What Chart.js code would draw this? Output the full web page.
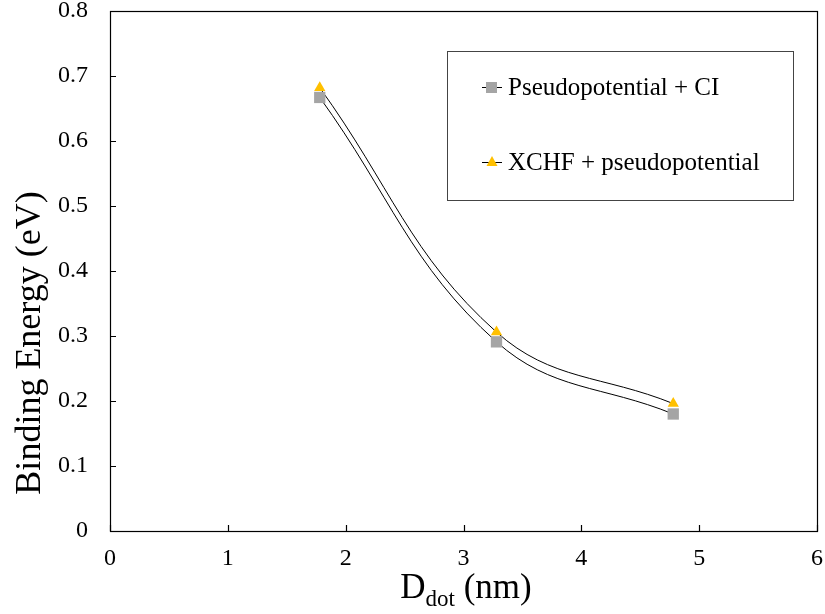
<!DOCTYPE html>
<html>
<head>
<meta charset="utf-8">
<script src="https://cdn.jsdelivr.net/npm/chart.js@4.4.0/dist/chart.umd.min.js"></script>
<style>
  body { margin: 0; background: #fff; }
  canvas { display: block; }
</style>
</head>
<body>
<canvas id="energyChart" width="825" height="614"></canvas>
<script>
// dot diameters (nm) and binding energies (eV)
const diameters = [1.78, 3.28, 4.78];
const ciEnergies = [0.667, 0.291, 0.180];
const xchfEnergies = [0.682, 0.306, 0.196];
const seriesNames = ["Pseudopotential + CI", "XCHF + pseudopotential"];
const xTicks = [0, 1, 2, 3, 4, 5, 6];
const yTicks = [0, 0.1, 0.2, 0.3, 0.4, 0.5, 0.6, 0.7, 0.8];

const FONT = "'Liberation Serif', 'Times New Roman', serif";
Chart.defaults.font.family = FONT;
Chart.defaults.font.size = 24;
Chart.defaults.color = "#000";

function points(ys) {
  return diameters.map((x, i) => ({ x, y: ys[i] }));
}

// frame, inward ticks, legend box and axis titles
const decorations = {
  id: "decorations",
  afterDraw(chart) {
    const ctx = chart.ctx;
    const a = chart.chartArea;
    const xs = chart.scales.x, ys = chart.scales.y;
    ctx.save();
    ctx.strokeStyle = "#000";
    ctx.lineWidth = 1.2;
    ctx.strokeRect(a.left + 0.5, a.top + 0.5, a.right - a.left, a.bottom - a.top);

    ctx.beginPath();
    xTicks.forEach(v => {
      const px = Math.round(xs.getPixelForValue(v)) + 0.5;
      ctx.moveTo(px, a.bottom);
      ctx.lineTo(px, a.bottom - 6);
    });
    yTicks.forEach(v => {
      const py = Math.round(ys.getPixelForValue(v)) + 0.5;
      ctx.moveTo(a.left, py);
      ctx.lineTo(a.left + 6, py);
    });
    ctx.stroke();

    // legend
    ctx.strokeStyle = "#444";
    ctx.lineWidth = 1;
    ctx.strokeRect(447.5, 51.5, 346, 149);
    const rows = [87, 162];
    chart.data.datasets.forEach((ds, i) => {
      const y = rows[i];
      ctx.strokeStyle = "#000";
      ctx.lineWidth = 1;
      ctx.beginPath();
      ctx.moveTo(482, y + 0.5);
      ctx.lineTo(502, y + 0.5);
      ctx.stroke();
      ctx.fillStyle = ds.pointBackgroundColor;
      if (ds.pointStyle === "rect") {
        ctx.fillRect(486, y - 5, 11, 11);
      } else {
        ctx.beginPath();
        ctx.moveTo(492, y - 6);
        ctx.lineTo(497.5, y + 4);
        ctx.lineTo(486.5, y + 4);
        ctx.closePath();
        ctx.fill();
      }
      ctx.fillStyle = "#000";
      ctx.font = "25px " + FONT;
      ctx.textBaseline = "middle";
      ctx.textAlign = "left";
      ctx.fillText(ds.label, 508, y + 1);
    });

    // y title
    ctx.save();
    ctx.translate(31, 343);
    ctx.rotate(-Math.PI / 2);
    ctx.font = "36px " + FONT;
    ctx.textAlign = "center";
    ctx.textBaseline = "middle";
    ctx.fillText("Binding Energy (eV)", 0, 0);
    ctx.restore();

    // x title with subscript
    ctx.textBaseline = "alphabetic";
    ctx.textAlign = "left";
    ctx.font = "35px " + FONT;
    const d = ctx.measureText("D").width;
    ctx.font = "23px " + FONT;
    const sub = ctx.measureText("dot").width;
    ctx.font = "35px " + FONT;
    const rest = ctx.measureText(" (nm)").width;
    let x0 = 466 - (d + sub + rest) / 2;
    ctx.fillText("D", x0, 598);
    ctx.font = "23px " + FONT;
    ctx.fillText("dot", x0 + d, 606);
    ctx.font = "35px " + FONT;
    ctx.fillText(" (nm)", x0 + d + sub, 598);
    ctx.restore();
  }
};

new Chart(document.getElementById("energyChart"), {
  type: "line",
  data: {
    datasets: [
      {
        label: seriesNames[0],
        data: points(ciEnergies),
        borderColor: "#000",
        borderWidth: 1,
        tension: 0.4,
        pointStyle: "rect",
        pointRadius: 8,
        pointBackgroundColor: "#a5a5a5",
        pointBorderWidth: 0
      },
      {
        label: seriesNames[1],
        data: points(xchfEnergies),
        borderColor: "#000",
        borderWidth: 1,
        tension: 0.4,
        pointStyle: "triangle",
        pointRadius: 6.5,
        pointBackgroundColor: "#ffc000",
        pointBorderWidth: 0
      }
    ]
  },
  options: {
    responsive: false,
    animation: false,
    layout: { padding: { top: 11, right: 5, left: 0, bottom: 0 } },
    plugins: { legend: { display: false }, tooltip: { enabled: false } },
    scales: {
      x: {
        type: "linear",
        min: 0,
        max: 6,
        afterBuildTicks: s => { s.ticks = xTicks.map(v => ({ value: v })); },
        afterFit: s => { s.height = 83; s.paddingLeft = 0; s.paddingRight = 0; },
        grid: { display: false, drawTicks: false },
        border: { display: false },
        ticks: { color: "#000", padding: 13, maxRotation: 0, font: { family: FONT, size: 24 } }
      },
      y: {
        min: 0,
        max: 0.8,
        afterBuildTicks: s => { s.ticks = yTicks.map(v => ({ value: v })); },
        afterFit: s => { s.width = 110; s.paddingTop = 0; s.paddingBottom = 0; },
        grid: { display: false, drawTicks: false },
        border: { display: false },
        ticks: {
          color: "#000",
          padding: 22,
          font: { family: FONT, size: 24 },
          callback: v => (v === 0 ? "0" : v.toFixed(1))
        }
      }
    }
  },
  plugins: [decorations]
});
</script>
</body>
</html>
